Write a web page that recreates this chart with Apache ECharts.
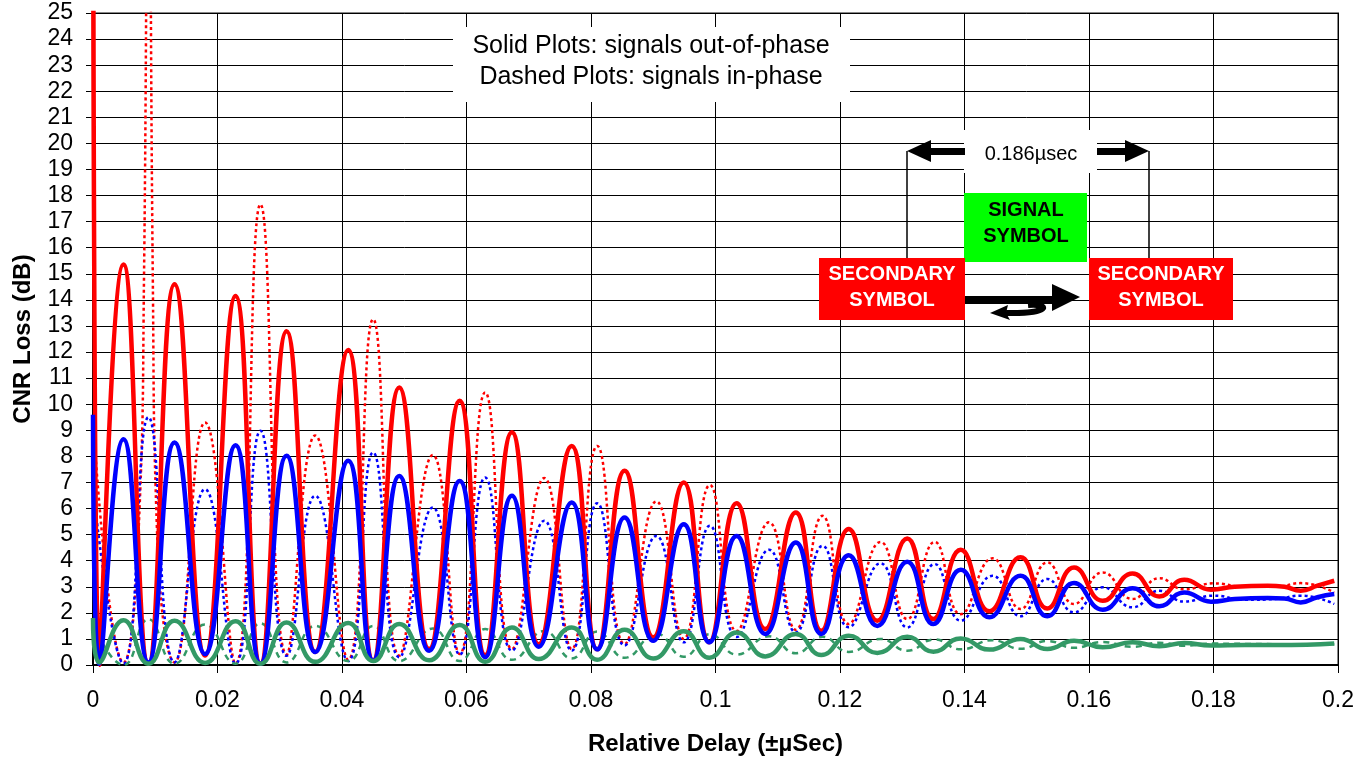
<!DOCTYPE html>
<html>
<head>
<meta charset="utf-8">
<title>CNR Loss vs Relative Delay</title>
<script src="https://cdn.jsdelivr.net/npm/echarts/dist/echarts.min.js"></script>
<style>
html, body { margin: 0; padding: 0; background: #fff; }
#myChart { width: 1366px; height: 761px; }
</style>
</head>
<body>
<div id="myChart"></div>
<script>
// x axis ticks (µsec) and y axis range (dB)
var xTicks = [0, 0.02, 0.04, 0.06, 0.08, 0.1, 0.12, 0.14, 0.16, 0.18, 0.2];
var yRange = [0, 25];

// solid plots: signals out-of-phase  [delay, dB]
var redSolid = [[0, 40], [0.001, 0], [0.0049, 15.36], [0.0089, 0.05], [0.0131, 14.6], [0.018, 0.36], [0.0229, 14.15], [0.0269, 0.05], [0.0311, 12.8], [0.0357, 0.5], [0.041, 12.08], [0.045, 0.17], [0.0492, 10.64], [0.054, 0.61], [0.0589, 10.13], [0.063, 0.38], [0.0673, 8.92], [0.0716, 0.8], [0.0769, 8.4], [0.081, 0.6], [0.0854, 7.45], [0.09, 1.06], [0.0949, 7.0], [0.099, 0.87], [0.1034, 6.2], [0.108, 1.38], [0.1129, 5.85], [0.117, 1.31], [0.1214, 5.21], [0.126, 1.7], [0.1308, 4.85], [0.135, 1.76], [0.1394, 4.42], [0.144, 2.06], [0.149, 4.13], [0.1533, 2.17], [0.1576, 3.74], [0.1622, 2.46], [0.167, 3.51], [0.1713, 2.63], [0.1753, 3.27], [0.1796, 2.89], [0.1834, 3.0], [0.1887, 3.04], [0.1914, 3.0], [0.194, 2.85], [0.1967, 3.04], [0.1994, 3.23]];
var blueSolid = [[0, 9.6], [0.001, 0.05], [0.0049, 8.66], [0.0089, 0.1], [0.0131, 8.53], [0.018, 0.42], [0.0229, 8.43], [0.0269, 0.05], [0.0311, 8.02], [0.0357, 0.5], [0.041, 7.83], [0.045, 0.17], [0.0492, 7.25], [0.054, 0.55], [0.0589, 7.06], [0.063, 0.3], [0.0673, 6.49], [0.0716, 0.7], [0.0769, 6.23], [0.081, 0.6], [0.0854, 5.66], [0.09, 0.93], [0.0949, 5.4], [0.099, 0.87], [0.1034, 4.95], [0.108, 1.19], [0.1129, 4.7], [0.117, 1.19], [0.1214, 4.21], [0.126, 1.5], [0.1308, 3.96], [0.135, 1.57], [0.1394, 3.65], [0.144, 1.83], [0.149, 3.42], [0.1533, 1.87], [0.1576, 3.14], [0.1622, 2.12], [0.167, 2.94], [0.1713, 2.25], [0.1753, 2.78], [0.1796, 2.43], [0.1834, 2.53], [0.1887, 2.57], [0.1914, 2.55], [0.194, 2.4], [0.1967, 2.6], [0.1994, 2.72]];
var greenSolid = [[0, 1.8], [0.001, 0.1], [0.0049, 1.72], [0.0089, 0.05], [0.0131, 1.7], [0.018, 0.08], [0.0229, 1.68], [0.0269, 0.05], [0.0311, 1.63], [0.0357, 0.12], [0.041, 1.61], [0.045, 0.15], [0.0492, 1.57], [0.054, 0.18], [0.0589, 1.53], [0.063, 0.12], [0.0673, 1.44], [0.0716, 0.23], [0.0769, 1.44], [0.081, 0.2], [0.0854, 1.35], [0.09, 0.25], [0.0949, 1.29], [0.099, 0.28], [0.1034, 1.25], [0.108, 0.33], [0.1129, 1.19], [0.117, 0.38], [0.1214, 1.12], [0.126, 0.46], [0.1308, 1.08], [0.135, 0.51], [0.1394, 1.02], [0.144, 0.59], [0.149, 1.0], [0.1533, 0.61], [0.1576, 0.93], [0.1622, 0.68], [0.167, 0.87], [0.1713, 0.72], [0.1753, 0.84], [0.1796, 0.75], [0.185, 0.77], [0.19, 0.77], [0.195, 0.78], [0.1994, 0.82]];

// dashed plots: signals in-phase
var redDashed = [[0, 9.4], [0.0049, 0.1], [0.0073, 5], [0.0082, 15], [0.0089, 38], [0.0096, 15], [0.0103, 5], [0.0131, 0.1], [0.018, 9.3], [0.0229, 0.05], [0.0269, 17.66], [0.0311, 0.4], [0.0357, 8.8], [0.041, 0.2], [0.045, 13.26], [0.0492, 0.36], [0.0546, 8.05], [0.0589, 0.42], [0.063, 10.45], [0.0673, 0.61], [0.0725, 7.17], [0.0769, 0.61], [0.081, 8.4], [0.0854, 0.8], [0.0905, 6.27], [0.0949, 1.0], [0.0991, 6.9], [0.1034, 1.3], [0.1086, 5.47], [0.1129, 1.35], [0.1172, 5.72], [0.1214, 1.57], [0.1265, 4.72], [0.1308, 1.76], [0.1352, 4.72], [0.1394, 1.95], [0.1445, 4.09], [0.149, 2.15], [0.1533, 3.93], [0.1576, 2.34], [0.1622, 3.55], [0.167, 2.53], [0.1713, 3.33], [0.1753, 2.9], [0.18, 3.13], [0.185, 3.0], [0.19, 3.0], [0.194, 3.14], [0.1994, 2.78]];
var blueDashed = [[0, 6.8], [0.0049, 0.05], [0.0089, 9.5], [0.0131, 0.1], [0.018, 6.74], [0.0229, 0.05], [0.0269, 8.98], [0.0311, 0.35], [0.0357, 6.49], [0.041, 0.15], [0.045, 8.15], [0.0492, 0.3], [0.0546, 6.04], [0.0589, 0.4], [0.063, 7.19], [0.0673, 0.55], [0.0725, 5.53], [0.0769, 0.55], [0.081, 6.2], [0.0854, 0.75], [0.0905, 4.95], [0.0949, 0.87], [0.0991, 5.34], [0.1034, 1.07], [0.1086, 4.42], [0.1129, 1.25], [0.1172, 4.57], [0.1214, 1.45], [0.1265, 3.9], [0.1308, 1.44], [0.1352, 3.87], [0.1394, 1.7], [0.1445, 3.42], [0.149, 1.87], [0.1533, 3.3], [0.1576, 2.02], [0.1622, 2.98], [0.167, 2.21], [0.1713, 2.85], [0.1753, 2.43], [0.18, 2.66], [0.185, 2.5], [0.19, 2.53], [0.194, 2.66], [0.1994, 2.34]];
var greenDashed = [[0, 1.6], [0.0049, 0.0], [0.0089, 1.76], [0.0131, 0.05], [0.018, 1.55], [0.0229, 0.05], [0.0269, 1.6], [0.0311, 0.1], [0.0357, 1.5], [0.041, 0.15], [0.045, 1.5], [0.0492, 0.15], [0.0546, 1.4], [0.0589, 0.15], [0.063, 1.38], [0.0673, 0.2], [0.0725, 1.3], [0.0769, 0.25], [0.081, 1.28], [0.0854, 0.28], [0.0905, 1.2], [0.0949, 0.32], [0.0991, 1.18], [0.1034, 0.4], [0.1086, 1.1], [0.1129, 0.45], [0.1172, 1.08], [0.1214, 0.5], [0.1265, 1.0], [0.1308, 0.55], [0.1352, 0.98], [0.1394, 0.6], [0.1445, 0.95], [0.149, 0.62], [0.1533, 0.92], [0.1576, 0.66], [0.1622, 0.88], [0.167, 0.7], [0.1713, 0.85], [0.1753, 0.74], [0.18, 0.82], [0.19, 0.8], [0.1994, 0.8]];

var FONT = 'Liberation Sans, Arial, sans-serif';

function line (data, color, width, type) {
  return {
    type: 'line',
    data: data,
    symbol: 'none',
    smooth: 0.5,
    lineStyle: { color: color, width: width, type: type },
    itemStyle: { color: color }
  };
}

// 注释框上的文字
function label (x, y, text, size, color, bold) {
  return {
    type: 'text', x: x, y: y, z: 102,
    style: {
      text: text, fill: color, fontSize: size, fontFamily: FONT,
      fontWeight: bold ? 'bold' : 'normal', align: 'center', verticalAlign: 'middle'
    }
  };
}

function box (x, y, w, h, color) {
  return { type: 'rect', z: 100, shape: { x: x, y: y, width: w, height: h }, style: { fill: color } };
}

function poly (points) {
  return { type: 'polygon', z: 101, shape: { points: points }, style: { fill: '#000' } };
}

var option = {
  animation: false,
  backgroundColor: '#fff',
  grid: { left: 93, right: 28, top: 13, bottom: 95, show: true, borderColor: '#888', borderWidth: 2 },
  xAxis: {
    type: 'value',
    min: xTicks[0],
    max: xTicks[xTicks.length - 1],
    interval: 0.02,
    name: 'Relative Delay (±µSec)',
    nameLocation: 'middle',
    nameGap: 67,
    nameTextStyle: { fontSize: 24, fontWeight: 'bold', fontFamily: FONT, color: '#000' },
    axisLine: { lineStyle: { color: '#000', width: 2 } },
    axisTick: { length: 8, lineStyle: { color: '#000' } },
    axisLabel: { fontSize: 23, fontFamily: FONT, color: '#000', margin: 24,
      formatter: function (v) { return String(+v.toFixed(2)); } },
    splitLine: { lineStyle: { color: '#000', width: 1 } }
  },
  yAxis: {
    type: 'value',
    min: yRange[0],
    max: yRange[1],
    interval: 1,
    name: 'CNR Loss (dB)',
    nameLocation: 'middle',
    nameGap: 58,
    nameTextStyle: { fontSize: 24, fontWeight: 'bold', fontFamily: FONT, color: '#000' },
    axisLine: { show: true, lineStyle: { color: '#000', width: 2 } },
    axisTick: { show: true, length: 7, lineStyle: { color: '#000' } },
    axisLabel: { fontSize: 23, fontFamily: FONT, color: '#000', margin: 20 },
    splitLine: { lineStyle: { color: '#000', width: 1 } }
  },
  series: [
    line(redDashed, '#ff0000', 2.5, [3, 3]),
    line(blueDashed, '#0000ff', 2.5, [3, 3]),
    line(greenDashed, '#339966', 2.5, [6, 5]),
    line(redSolid, '#ff0000', 4.5, 'solid'),
    line(blueSolid, '#0000ff', 4.5, 'solid'),
    line(greenSolid, '#339966', 4.5, 'solid')
  ],
  graphic: [
    box(453, 27, 397, 75, '#fff'),
    label(651, 46, 'Solid Plots: signals out-of-phase', 25, '#000', false),
    label(651, 77, 'Dashed Plots: signals in-phase', 25, '#000', false),

    // 0.186µsec 标注
    { type: 'line', z: 101, shape: { x1: 907, y1: 151, x2: 907, y2: 258 }, style: { stroke: '#000', lineWidth: 1.5 } },
    { type: 'line', z: 101, shape: { x1: 1149, y1: 151, x2: 1149, y2: 258 }, style: { stroke: '#000', lineWidth: 1.5 } },
    poly([[907, 151], [931, 140], [931, 162]]),
    poly([[930, 148], [965, 148], [965, 155], [930, 155]]),
    poly([[1097, 148], [1126, 148], [1126, 155], [1097, 155]]),
    poly([[1125, 140], [1149, 151], [1125, 162]]),
    box(964, 130, 133, 43, '#fff'),
    label(1031, 154, '0.186µsec', 20, '#000', false),

    box(964, 193, 123, 69, '#00ff00'),
    label(1026, 210, 'SIGNAL', 20, '#000', true),
    label(1026, 236, 'SYMBOL', 20, '#000', true),

    box(819, 258, 146, 62, '#ff0000'),
    label(892, 274, 'SECONDARY', 20, '#fff', true),
    label(892, 300, 'SYMBOL', 20, '#fff', true),
    box(1089, 258, 144, 62, '#ff0000'),
    label(1161, 274, 'SECONDARY', 20, '#fff', true),
    label(1161, 300, 'SYMBOL', 20, '#fff', true),

    // 下方箭头和回转的小箭头
    poly([[965, 296], [1053, 296], [1053, 304], [965, 304]]),
    poly([[1052, 284], [1080, 297], [1052, 311]]),
    { type: 'bezierCurve', z: 101,
      shape: { x1: 1028, y1: 305, cpx1: 1050, cpy1: 303, cpx2: 1052, cpy2: 314, x2: 1006, y2: 313 },
      style: { stroke: '#000', lineWidth: 6, fill: null } },
    poly([[990, 313], [1008, 305], [1006, 313], [1010, 320]])
  ]
};

var myChart = echarts.init(document.getElementById('myChart'));
myChart.setOption(option);
window.onresize = myChart.resize;
</script>
</body>
</html>
